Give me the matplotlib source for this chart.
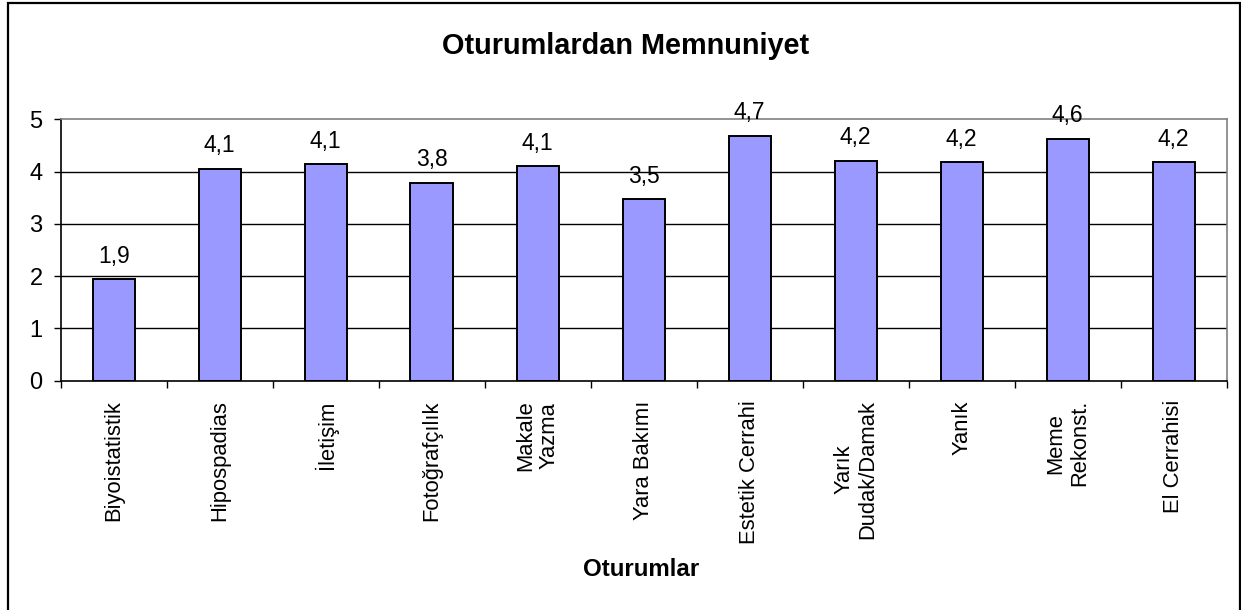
import matplotlib
matplotlib.use('Agg')
import matplotlib.pyplot as plt
from matplotlib.patches import Rectangle
import numpy as np

plt.rcParams['font.family'] = ['Liberation Sans', 'DejaVu Sans']

sessions = ['Biyoistatistik', 'Hipospadias', 'İletişim', 'Fotoğrafçılık',
            'Makale\nYazma', 'Yara Bakımı', 'Estetik Cerrahi', 'Yarık\nDudak/Damak',
            'Yanık', 'Meme\nRekonst.', 'El Cerrahisi']
scores = [1.94, 4.05, 4.14, 3.79, 4.10, 3.47, 4.68, 4.20, 4.18, 4.62, 4.18]
score_labels = ['1,9', '4,1', '4,1', '3,8', '4,1', '3,5', '4,7', '4,2', '4,2', '4,6', '4,2']
yticks = [0, 1, 2, 3, 4, 5]

W, H = 1241, 610
fig = plt.figure(figsize=(W / 100, H / 100), dpi=100)

# outer frame (no bottom edge visible)
fig.patches.append(Rectangle((8 / W, -0.05), (1240 - 8) / W, 1.05 - 3 / H,
                             transform=fig.transFigure, fill=False,
                             edgecolor='black', linewidth=1.6))

ax = fig.add_axes([60.7 / W, 1 - 380.7 / H, (1226.7 - 60.7) / W, (380.7 - 119.3) / H])

x = np.arange(len(sessions))
ax.bar(x, scores, width=0.4, color='#9999FF', edgecolor='black', linewidth=1.4, zorder=3)

for xi, v, lab in zip(x, scores, score_labels):
    ax.annotate(lab, (xi, v), xytext=(0, 12), textcoords='offset points',
                ha='center', va='baseline', fontsize=16.5, zorder=4)

ax.set_xlim(-0.5, len(sessions) - 0.5)
ax.set_ylim(0, 5)
ax.set_yticks(yticks)
ax.set_yticklabels([str(t) for t in yticks], fontsize=17)
ax.tick_params(axis='y', direction='out', length=5, width=1, pad=8)

ax.set_xticks(x)
ax.set_xticklabels(sessions, rotation=90, fontsize=15.8, ha='center', va='top',
                   multialignment='center', linespacing=1.15)
ax.set_xticks(np.arange(len(sessions) + 1) - 0.5, minor=True)
ax.tick_params(axis='x', which='major', length=0, pad=14)
ax.tick_params(axis='x', which='minor', direction='out', length=5, width=1)

for yv in yticks[1:-1]:
    ax.axhline(yv, color='black', linewidth=1, zorder=1)

ax.spines['left'].set_color('black')
ax.spines['bottom'].set_color('black')
ax.spines['bottom'].set_zorder(5)
ax.spines['top'].set_color('#808080')
ax.spines['right'].set_color('#808080')
for s in ax.spines.values():
    s.set_linewidth(1.2)

fig.text(626 / W, 1 - 46 / H, 'Oturumlardan Memnuniyet', ha='center', va='center',
         fontsize=20.8, fontweight='bold')
fig.text(641 / W, 1 - 570 / H, 'Oturumlar', ha='center', va='center',
         fontsize=17.4, fontweight='bold')

fig.savefig('out.png', dpi=100)
